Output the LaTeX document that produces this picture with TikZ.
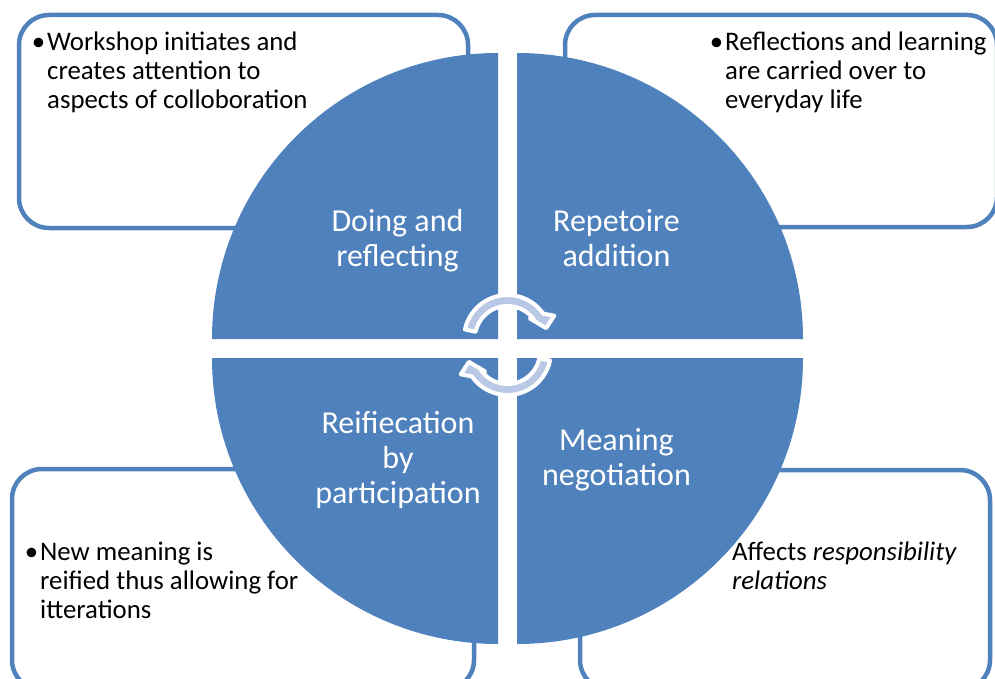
\documentclass[tikz,border=0pt]{standalone}
\usepackage{fontspec}
\setmainfont{Carlito}
\definecolor{quadblue}{HTML}{4F81BD}
\definecolor{arrowblue}{HTML}{B9C9E5}
\begin{document}
\begin{tikzpicture}
      [x=1pt,y=-1pt,
      quad/.style={fill=quadblue},
      note box/.style={draw=quadblue,line width=4.5pt,rounded corners=30pt,fill=white},
      note text/.style={anchor=north west,align=left,inner sep=0pt,font=\fontsize{26.8}{29}\selectfont},
      quad label/.style={align=center,inner sep=0pt,text=white,font=\fontsize{32}{35}\selectfont},
      cycle arrow/.style={fill=arrowblue,draw=white,line width=4pt,line join=round}]
      \useasboundingbox (0,0) rectangle (995,679);
      \node[note box,minimum width=449pt,minimum height=213pt] (box1) at (243.5,121.5) { };
      \node[note box,minimum width=432pt,minimum height=212pt] (box2) at (781,121) { };
      \node[note box,minimum width=462pt,minimum height=221pt] (box3) at (243,579.5) { };
      \node[note box,minimum width=410pt,minimum height=220pt] (box4) at (785,580) { };
      \node[note text] (t1) at (47,32) {\llap{•\hspace{2pt}}Workshop initiates and\\creates attention to\\aspects of colloboration};
      \node[note text] (t2) at (725,32) {\llap{•\hspace{2pt}}Reflections and learning\\are carried over to\\everyday life};
      \node[note text] (t3) at (40,542) {\llap{•\hspace{2pt}}New meaning is\\reified thus allowing for\\itterations};
      \node[note text] (t4) at (732,542) {Affects \emph{responsibility}\\\emph{relations}};
      \foreach \cx/\cy/\a in {498/339/180, 517/339/270, 517/358/0, 498/358/90}
        \fill[quad] (\cx,\cy) -- ++(\a:286) arc[start angle=\a, delta angle=90, radius=286] -- cycle;
      \node[quad label] (q1) at (397.5,241) {Doing and\\reflecting};
      \node[quad label] (q2) at (616.5,238.5) {Repetoire\\addition};
      \node[quad label] (q3) at (398,460) {Reifiecation\\by\\participation};
      \node[quad label] (q4) at (616.5,460) {Meaning\\negotiation};
      \foreach \rot in {0,180}
        \draw[cycle arrow,shift={(507.5,338.5)},rotate around={\rot:(0,6.5)}]
          (192:43.5) arc[start angle=192, end angle=325, radius=43.5] -- (334:52) -- (345:40)
          -- (318:30) -- (325:32.5) arc[start angle=325, end angle=192, radius=32.5] -- cycle;
    \end{tikzpicture}
\end{document}
